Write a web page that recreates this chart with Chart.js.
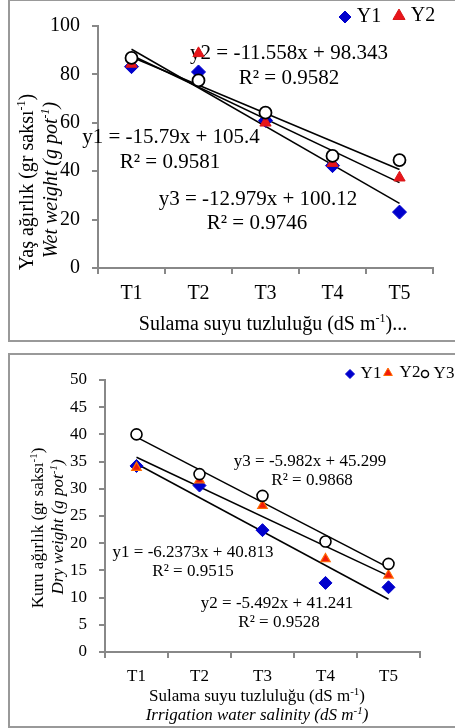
<!DOCTYPE html>
<html>
<head>
<meta charset="utf-8">
<script src="https://cdn.jsdelivr.net/npm/chart.js@4.4.1/dist/chart.umd.min.js"></script>
<style>
body { margin: 0; background: #fff; width: 455px; height: 728px; overflow: hidden; position: relative; }
canvas { position: absolute; left: 0; }
.box { position: absolute; left: 8px; width: 480px; border: 2px solid #999; box-sizing: border-box; }
</style>
</head>
<body>
<div class="box" style="top:-1px;height:343px"></div>
<div class="box" style="top:353px;height:375px"></div>
<canvas id="wetChart" width="455" height="341" style="top:0"></canvas>
<canvas id="dryChart" width="455" height="387" style="top:341px"></canvas>
<script>
// categories
const categories = ['T1', 'T2', 'T3', 'T4', 'T5']

// wet weight (g pot-1)
const wetY1 = [83.2, 81.0, 61.0, 42.3, 23.1]
const wetY2 = [84.3, 88.7, 60.0, 43.3, 37.3]
const wetY3 = [86.8, 77.5, 64.2, 46.3, 44.6]
// trend lines, read at T1 and T5
const wetTrendA = [90.4, null, null, null, 26.7]
const wetTrendB = [87.9, null, null, null, 35.3]
const wetTrendC = [87.2, null, null, null, 40.7]
const wetTicks = [0, 20, 40, 60, 80, 100]

// dry weight (g pot-1)
const dryY1 = [34.2, 30.6, 22.4, 12.7, 11.9]
const dryY2 = [33.9, 31.6, 26.9, 17.1, 14.1]
const dryY3 = [40.0, 32.7, 28.7, 20.3, 16.2]
const dryTrendA = [34.6, null, null, null, 9.7]
const dryTrendB = [35.8, null, null, null, 14.0]
const dryTrendC = [39.5, null, null, null, 15.5]
const dryTicks = [0, 5, 10, 15, 20, 25, 30, 35, 40, 45, 50]

// equation labels
const wetEquations = ['y2 = -11.558x + 98.343', 'R² = 0.9582', 'y1 = -15.79x + 105.4', 'R² = 0.9581', 'y3 = -12.979x + 100.12', 'R² = 0.9746']
const dryEquations = ['y3 = -5.982x + 45.299', 'R² = 0.9868', 'y1 = -6.2373x + 40.813', 'R² = 0.9515', 'y2 = -5.492x + 41.241', 'R² = 0.9528']

const serif = '"Liberation Serif", "Times New Roman", serif'

function drawRich(ctx, parts, x, y, size, italic, angle) {
    const base = (italic ? 'italic ' : '') + size + 'px ' + serif
    const sup = (italic ? 'italic ' : '') + Math.round(size * 0.62) + 'px ' + serif
    let w = 0
    parts.forEach(p => { ctx.font = p[1] ? sup : base; w += ctx.measureText(p[0]).width })
    ctx.save()
    ctx.translate(x, y)
    if (angle) ctx.rotate(angle)
    ctx.textBaseline = 'middle'
    ctx.textAlign = 'left'
    ctx.fillStyle = '#000'
    let cx = -w / 2
    parts.forEach(p => {
        ctx.font = p[1] ? sup : base
        ctx.fillText(p[0], cx, p[1] ? -size * 0.3 : 0)
        cx += ctx.measureText(p[0]).width
    })
    ctx.restore()
}

// texts and legend drawn on top of the chart
const extraText = {
    id: 'extraText',
    beforeDatasetsDraw(chart, args, opts) {
        const ctx = chart.ctx
        opts.items.forEach(it => drawRich(ctx, it.parts, it.x, it.y, it.size, it.italic, it.angle))
    },
    afterDraw(chart, args, opts) {
        const ctx = chart.ctx
        opts.legend.forEach(l => {
            ctx.save()
            ctx.fillStyle = l.fill
            ctx.strokeStyle = l.stroke
            ctx.lineWidth = l.lw
            Chart.helpers.drawPoint(ctx, { pointStyle: l.style, radius: l.r, rotation: 0, borderWidth: l.lw }, l.x, l.y)
            ctx.restore()
            drawRich(ctx, [[l.label, false]], l.tx, l.y, l.size, false)
        })
    }
}

function pointSet(label, data, style, r, fill, stroke, lw, order) {
    return {
        label: label, data: data, showLine: false, pointStyle: style, pointRadius: r, pointHoverRadius: r,
        backgroundColor: fill, borderColor: stroke, pointBorderWidth: lw, order: order
    }
}
function trendSet(data) {
    return { data: data, spanGaps: true, borderColor: '#000', borderWidth: 1.5, pointRadius: 0, fill: false, order: 3 }
}

function makeChart(id, cfg) {
    return new Chart(document.getElementById(id), {
        type: 'line',
        data: { labels: categories, datasets: cfg.datasets },
        plugins: [extraText],
        options: {
            responsive: false,
            animation: false,
            devicePixelRatio: 1,
            layout: { padding: cfg.padding },
            plugins: {
                legend: { display: false },
                tooltip: { enabled: false },
                extraText: { items: cfg.items, legend: cfg.legend }
            },
            scales: {
                x: {
                    type: 'category',
                    offset: true,
                    grid: { offset: true, drawOnChartArea: false, drawTicks: true, tickLength: 6, color: '#888', lineWidth: 2 },
                    border: { color: '#888', width: 2 },
                    ticks: { color: '#000', font: { family: serif, size: cfg.font }, padding: cfg.xPad, maxRotation: 0 },
                    afterFit: s => { s.height = cfg.xHeight }
                },
                y: {
                    min: cfg.min, max: cfg.max,
                    afterBuildTicks: s => { s.ticks = cfg.ticks.map(v => ({ value: v })) },
                    grid: { drawOnChartArea: false, drawTicks: true, tickLength: 6, color: '#888', lineWidth: 2 },
                    border: { color: '#888', width: 2 },
                    ticks: { color: '#000', font: { family: serif, size: cfg.font }, padding: cfg.yPad },
                    afterFit: s => { s.width = cfg.yWidth }
                }
            }
        }
    })
}

const eq = (t, x, y, size) => ({ parts: [[t, false]], x: x, y: y, size: size })

makeChart('wetChart', {
    datasets: [
        pointSet('Y3', wetY3, 'circle', 6, '#fff', '#000', 1.8, 0),
        pointSet('Y2', wetY2, 'triangle', 6.5, '#E8141B', '#D81818', 1, 1),
        pointSet('Y1', wetY1, 'rectRot', 7, '#0000CC', '#0000CC', 1, 2),
        trendSet(wetTrendA), trendSet(wetTrendB), trendSet(wetTrendC)
    ],
    padding: { left: 0, right: 22, top: 26, bottom: 0 },
    yWidth: 98, xHeight: 73, min: 0, max: 100, ticks: wetTicks, font: 20, xPad: 8, yPad: 12,
    items: [
        eq(wetEquations[0], 289, 53, 21), eq(wetEquations[1], 289, 78, 21),
        eq(wetEquations[2], 171, 137, 21), eq(wetEquations[3], 170, 162, 21),
        eq(wetEquations[4], 258, 199, 21), eq(wetEquations[5], 257, 223, 21),
        { parts: [['Yaş ağırlık (gr saksı', false], ['-1', true], [')', false]], x: 28, y: 182, size: 20, angle: -Math.PI / 2 },
        { parts: [['Wet weight (g pot', false], ['-1', true], [')', false]], x: 52, y: 180, size: 20, italic: true, angle: -Math.PI / 2 },
        { parts: [['Sulama suyu tuzluluğu (dS m', false], ['-1', true], [')...', false]], x: 273, y: 325, size: 20 }
    ],
    legend: [
        { style: 'rectRot', r: 6, fill: '#0000CC', stroke: '#0000CC', lw: 1, x: 345, y: 17, tx: 369, label: 'Y1', size: 20 },
        { style: 'triangle', r: 7, fill: '#E8141B', stroke: '#D81818', lw: 1, x: 399, y: 16, tx: 423, label: 'Y2', size: 20 }
    ]
})

makeChart('dryChart', {
    datasets: [
        pointSet('Y3', dryY3, 'circle', 5.5, '#fff', '#000', 1.6, 0),
        pointSet('Y2', dryY2, 'triangle', 5.5, '#F21A0A', '#FF6A00', 1.2, 1),
        pointSet('Y1', dryY1, 'rectRot', 6.5, '#0000CC', '#0000CC', 1, 2),
        trendSet(dryTrendA), trendSet(dryTrendB), trendSet(dryTrendC)
    ],
    padding: { left: 0, right: 35, top: 39, bottom: 0 },
    yWidth: 105, xHeight: 76, min: 0, max: 50, ticks: dryTicks, font: 17, xPad: 8, yPad: 12,
    items: [
        eq(dryEquations[0], 310, 121, 17), eq(dryEquations[1], 312, 140, 17),
        eq(dryEquations[2], 193, 212, 17), eq(dryEquations[3], 193, 231, 17),
        eq(dryEquations[4], 277, 263, 17), eq(dryEquations[5], 279, 282, 17),
        { parts: [['Kuru ağırlık (gr saksı', false], ['-1', true], [')', false]], x: 39, y: 187, size: 17, angle: -Math.PI / 2 },
        { parts: [['Dry weight (g pot', false], ['-1', true], [')', false]], x: 59, y: 186, size: 17, italic: true, angle: -Math.PI / 2 },
        { parts: [['Sulama suyu tuzluluğu (dS m', false], ['-1', true], [')', false]], x: 257, y: 356, size: 17 },
        { parts: [['Irrigation water salinity (dS m', false], ['-1', true], [')', false]], x: 257, y: 375, size: 17, italic: true }
    ],
    legend: [
        { style: 'rectRot', r: 4.5, fill: '#0000CC', stroke: '#0000CC', lw: 1, x: 350, y: 33, tx: 371, label: 'Y1', size: 17 },
        { style: 'triangle', r: 5, fill: '#F21A0A', stroke: '#FF6A00', lw: 1, x: 388, y: 32, tx: 410, label: 'Y2', size: 17 },
        { style: 'circle', r: 3.5, fill: '#fff', stroke: '#000', lw: 1.5, x: 425, y: 33, tx: 444, label: 'Y3', size: 17 }
    ]
})
</script>
</body>
</html>
